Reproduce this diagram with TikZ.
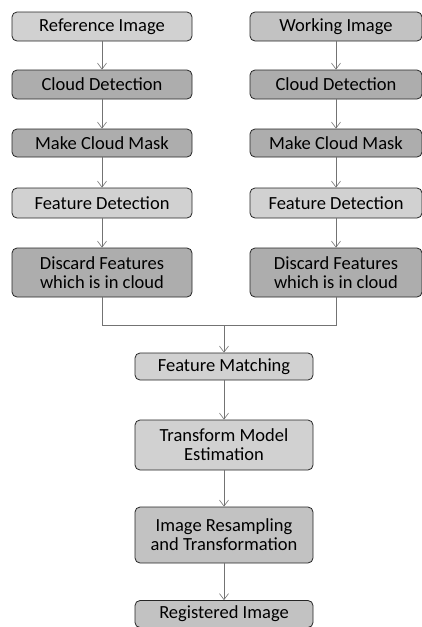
\documentclass[tikz,border=0pt]{standalone}
\usepackage{fontspec}
\setmainfont{Carlito}
\usetikzlibrary{arrows.meta}
\definecolor{boxlight}{gray}{0.82}
\definecolor{boxmid}{gray}{0.76}
\definecolor{boxdark}{gray}{0.68}
\begin{document}
\begin{tikzpicture}[x=1pt,y=-1pt,
  box/.style={draw=black!85, line width=0.8pt, rounded corners=5pt,
    inner sep=0pt, align=center, font=\fontsize{18.5}{19}\selectfont},
  lbox/.style={box, minimum width=180pt},
  rbox/.style={box, minimum width=172pt},
  cbox/.style={box, minimum width=178pt},
  conn/.style={draw=black!55, line width=0.6pt},
  arr/.style={conn, -{Straight Barb[length=6pt,width=9pt]}}]
  \fill[white] (0,0) rectangle (421,627);
  \useasboundingbox (0,0) rectangle (421,627);

  % left column
  \node[lbox, fill=boxlight, minimum height=29pt] (refI) at (102,26.5) {Reference Image};
  \node[lbox, fill=boxdark,  minimum height=29pt] (cdL)  at (102,84.5) {Cloud Detection};
  \node[lbox, fill=boxdark,  minimum height=28pt] (mcL)  at (102,143)  {Make Cloud Mask};
  \node[lbox, fill=boxlight, minimum height=30pt] (fdL)  at (102,203)  {Feature Detection};
  \node[lbox, fill=boxdark,  minimum height=49pt] (dfL)  at (102,272.5) {Discard Features\\which is in cloud};

  % right column
  \node[rbox, fill=boxmid,   minimum height=29pt] (wrkI) at (336,26.5) {Working Image};
  \node[rbox, fill=boxdark,  minimum height=29pt] (cdR)  at (336,84.5) {Cloud Detection};
  \node[rbox, fill=boxdark,  minimum height=28pt] (mcR)  at (336,143)  {Make Cloud Mask};
  \node[rbox, fill=boxlight, minimum height=30pt] (fdR)  at (336,203)  {Feature Detection};
  \node[rbox, fill=boxdark,  minimum height=49pt] (dfR)  at (336,272.5) {Discard Features\\which is in cloud};

  % centre column
  \node[cbox, fill=boxlight, minimum height=27pt] (fm)  at (224,366.5) {Feature Matching};
  \node[cbox, fill=boxlight, minimum height=50pt] (tme) at (224,445)   {Transform Model\\Estimation};
  \node[cbox, fill=boxmid,   minimum height=56pt] (irt) at (224,535)   {Image Resampling\\and Transformation};
  \node[cbox, fill=boxmid,   minimum height=27pt] (reg) at (224,614)   {Registered Image};

  \coordinate (join) at (224,325);

  % connectors
  \draw[arr] (refI) -- (cdL);
  \draw[arr] (cdL) -- (mcL);
  \draw[arr] (mcL) -- (fdL);
  \draw[arr] (fdL) -- (dfL);
  \draw[arr] (wrkI) -- (cdR);
  \draw[arr] (cdR) -- (mcR);
  \draw[arr] (mcR) -- (fdR);
  \draw[arr] (fdR) -- (dfR);
  \draw[conn] (dfL.south) |- (join);
  \draw[conn] (dfR.south) |- (join);
  \draw[arr] (join) -- (fm);
  \draw[arr] (fm) -- (tme);
  \draw[arr] (tme) -- (irt);
  \draw[arr] (irt) -- (reg);
\end{tikzpicture}
\end{document}
